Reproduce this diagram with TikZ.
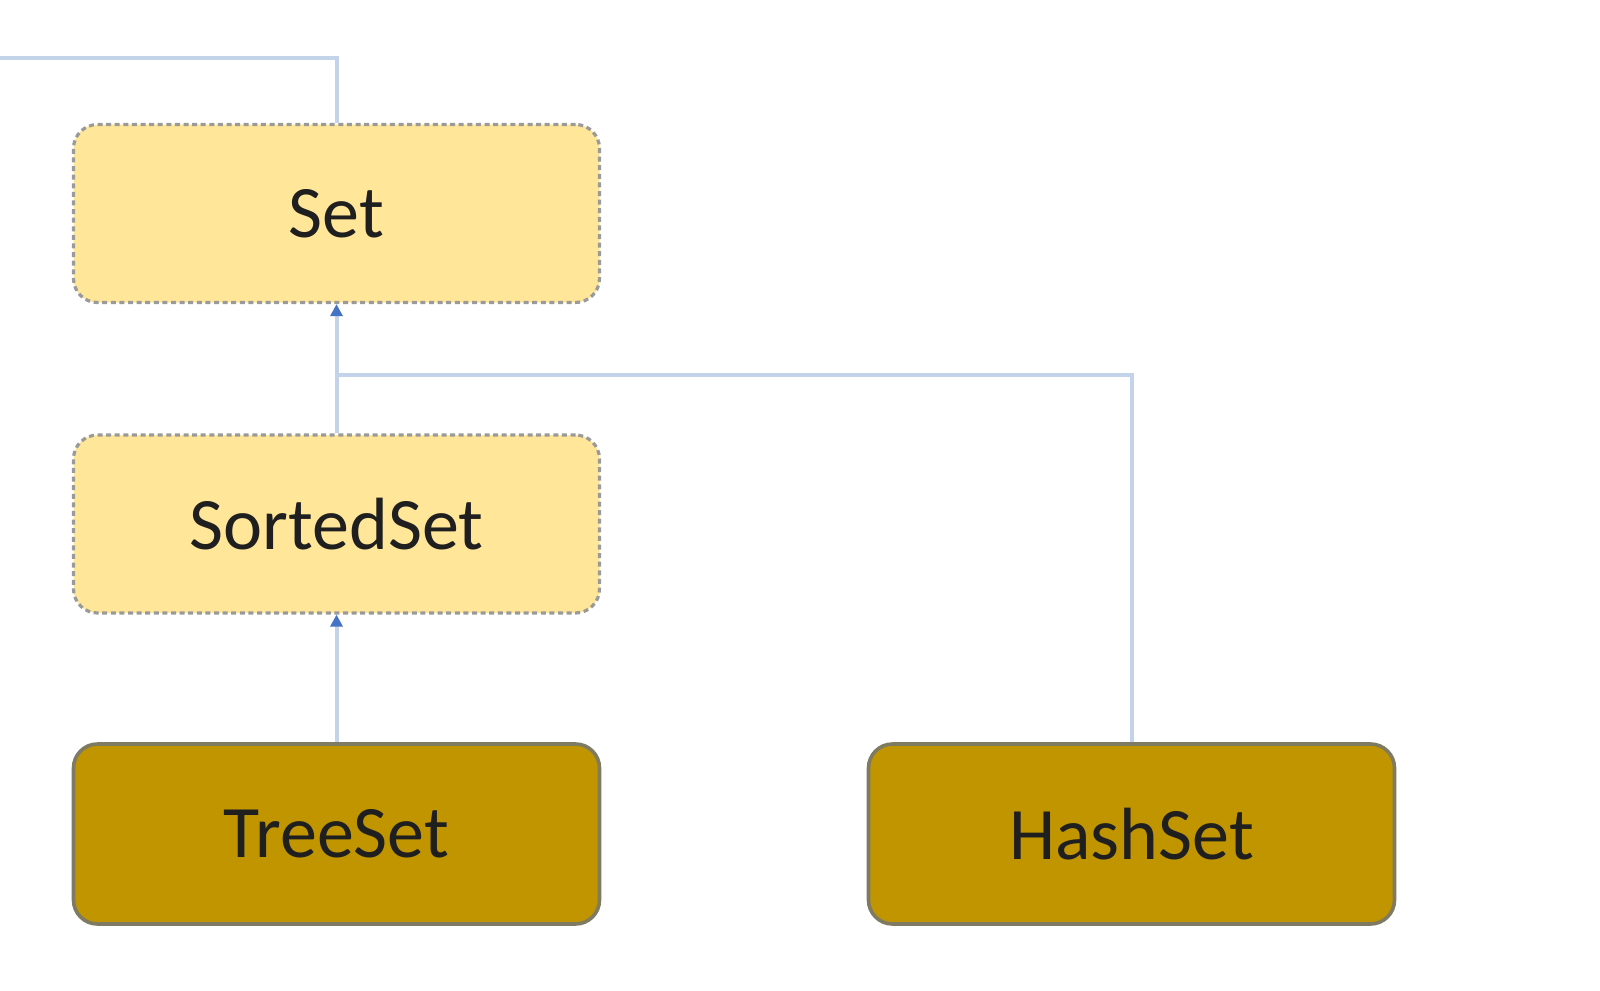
\documentclass[tikz,border=0pt]{standalone}
\usepackage{fontspec}
\setmainfont{Carlito}
\usetikzlibrary{arrows.meta}
\definecolor{ifill}{HTML}{FFE699}
\definecolor{iborder}{HTML}{9A9A9A}
\definecolor{cfill}{HTML}{C09500}
\definecolor{cborder}{HTML}{7E7B62}
\definecolor{linkc}{HTML}{C3D3EA}
\definecolor{tipc}{HTML}{4472C4}
\tikzset{
  ibox/.style={draw=iborder, fill=ifill, line width=1.6pt, dash pattern=on 2.5pt off 1.8pt,
    rounded corners=12pt, minimum width=263pt, minimum height=89pt, inner sep=0pt,
    font=\fontsize{37}{40}\selectfont, text=black!88},
  cbox/.style={draw=cborder, fill=cfill, line width=1.8pt,
    rounded corners=12pt, minimum width=263pt, minimum height=90pt, inner sep=0pt,
    font=\fontsize{37}{40}\selectfont, text=black!88},
  link/.style={draw=linkc, line width=2pt},
  inherit/.style={link, -{Triangle[width=6pt,length=6pt,color=tipc,fill=tipc]}}
}
\begin{document}
\begin{tikzpicture}[x=0.5pt,y=-0.5pt]
\useasboundingbox (0,0) rectangle (1600,990);
\node[ibox] (set) at (336.5,213.5) {Set};
\node[ibox] (sorted) at (336.5,524) {SortedSet};
\node[cbox] (tree) at (336.5,834) {TreeSet};
\node[cbox] (hash) at (1131.5,834) {HashSet};
\coordinate (top) at (0,58);
\coordinate (junc) at (336.5,374.5);
\draw[link] (top) -| (set.north);
\draw[inherit] (sorted.north) -- (set.south);
\draw[link] (hash.north) |- (junc);
\draw[inherit] (tree.north) -- (sorted.south);
\end{tikzpicture}
\end{document}
